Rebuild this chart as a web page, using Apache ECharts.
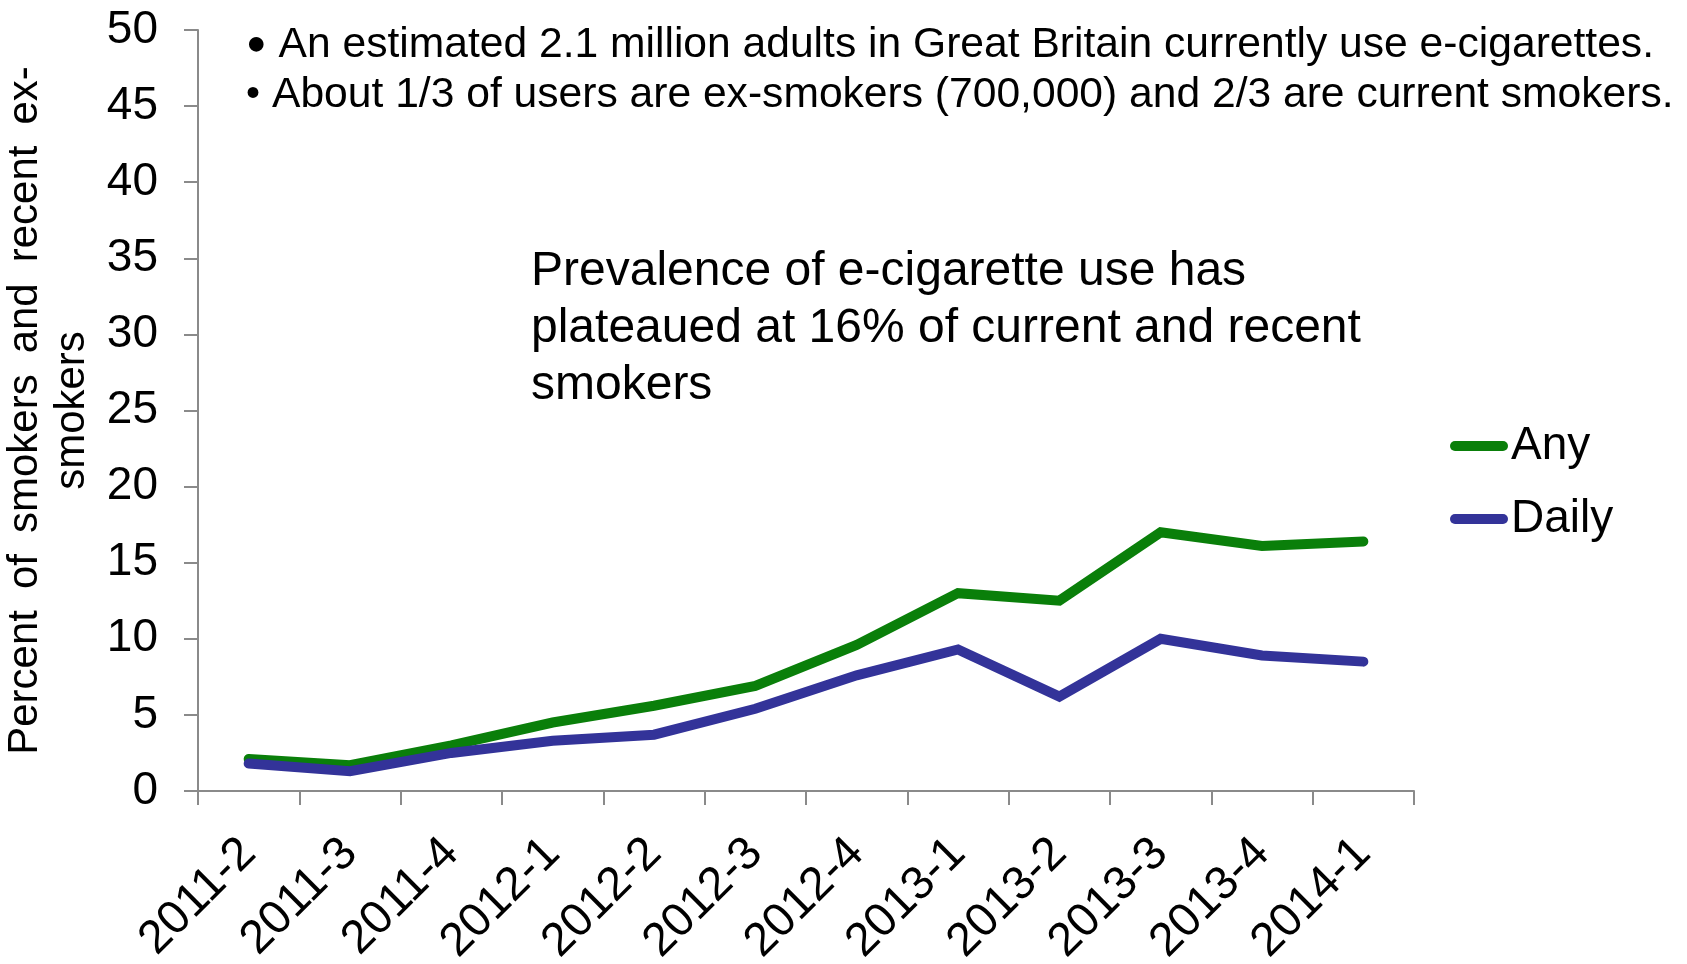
<!DOCTYPE html>
<html>
<head>
<meta charset="utf-8">
<script src="https://cdn.jsdelivr.net/npm/echarts@6/dist/echarts.min.js"></script>
<style>
  html, body { margin: 0; padding: 0; background: #fff; }
  #chart { width: 1687px; height: 964px; }
</style>
</head>
<body>
<div id="chart"></div>
<script>
// Quarterly survey waves
const quarters = ['2011-2', '2011-3', '2011-4', '2012-1', '2012-2', '2012-3',
                  '2012-4', '2013-1', '2013-2', '2013-3', '2013-4', '2014-1'];
// Percent of smokers and recent ex-smokers using e-cigarettes
const anyUse   = [2.1, 1.7, 3.0, 4.5, 5.6, 6.9, 9.6, 13.0, 12.5, 17.0, 16.1, 16.4];
const dailyUse = [1.8, 1.3, 2.5, 3.3, 3.7, 5.4, 7.6, 9.3, 6.2, 10.0, 8.9, 8.5];
const yTicks = { min: 0, max: 50, interval: 5 };

const FONT = '"Liberation Sans", Arial, sans-serif';
const GREEN = '#0a7f0a';
const BLUE = '#333399';
const AXIS = '#8a8a8a';
const capsule = 'path://M5,0H53A5,5,0,0,1,53,10H5A5,5,0,0,1,5,0Z';
const SP = '\u2002'; // wider word gap used in the axis title

const chart = echarts.init(document.getElementById('chart'), null, { renderer: 'canvas' });

chart.setOption({
  backgroundColor: '#ffffff',
  animation: false,
  textStyle: { fontFamily: FONT, color: '#000' },
  grid: { left: 198, right: 273, top: 30, bottom: 173, containLabel: false, outerBoundsMode: 'none' },
  legend: {
    orient: 'vertical',
    left: 1445,
    top: 416,
    itemWidth: 58,
    itemHeight: 10,
    itemGap: 23,
    icon: capsule,
    textStyle: { fontFamily: FONT, fontSize: 46, color: '#000', lineHeight: 50, padding: [0, 0, 0, -2] },
    data: ['Any', 'Daily']
  },
  xAxis: {
    type: 'category',
    data: quarters,
    boundaryGap: true,
    axisLine: { lineStyle: { color: AXIS, width: 2 } },
    axisTick: { show: true, length: 14, inside: false, alignWithLabel: false, lineStyle: { color: AXIS, width: 2 } },
    axisLabel: { interval: 0, rotate: 45, fontSize: 47, color: '#000', fontFamily: FONT, margin: 55 },
    splitLine: { show: false }
  },
  yAxis: {
    type: 'value',
    min: yTicks.min,
    max: yTicks.max,
    interval: yTicks.interval,
    name: ['Percent', 'of', 'smokers', 'and', 'recent', 'ex-'].join(SP) + '\nsmokers',
    nameLocation: 'middle',
    nameGap: 90,
    nameRotate: 90,
    nameTextStyle: { fontFamily: FONT, fontSize: 42, color: '#000', lineHeight: 47, align: 'center' },
    axisLine: { show: true, lineStyle: { color: AXIS, width: 2 } },
    axisTick: { show: true, length: 14, inside: false, lineStyle: { color: AXIS, width: 2 } },
    axisLabel: { fontSize: 46, color: '#000', fontFamily: FONT, margin: 40 },
    splitLine: { show: false }
  },
  series: [
    {
      name: 'Any',
      type: 'line',
      data: anyUse,
      showSymbol: false,
      symbol: 'none',
      itemStyle: { color: GREEN },
      lineStyle: { color: GREEN, width: 10, cap: 'round', join: 'miter' }
    },
    {
      name: 'Daily',
      type: 'line',
      data: dailyUse,
      showSymbol: false,
      symbol: 'none',
      itemStyle: { color: BLUE },
      lineStyle: { color: BLUE, width: 10, cap: 'round', join: 'miter' }
    }
  ],
  graphic: [
    {
      type: 'text',
      left: 246,
      top: 20,
      style: {
        text: '{b1|●}{g1|}An estimated 2.1 million adults in Great Britain currently use e-cigarettes.\n{b2|•}{g2|}About 1/3 of users are ex-smokers (700,000) and 2/3 are current smokers.',
        font: '42.6px ' + FONT,
        fill: '#000',
        lineHeight: 50,
        rich: {
          b1: { fontSize: 34, fontFamily: FONT, fill: '#000' },
          g1: { width: 12 },
          b2: { fontSize: 40, fontFamily: FONT, fill: '#000' },
          g2: { width: 12 }
        }
      }
    },
    {
      type: 'text',
      left: 531,
      top: 243,
      style: {
        text: 'Prevalence of e-cigarette use has\nplateaued at 16% of current and recent\nsmokers',
        font: '48px ' + FONT,
        fill: '#000',
        lineHeight: 57
      }
    }
  ]
});
</script>
</body>
</html>
